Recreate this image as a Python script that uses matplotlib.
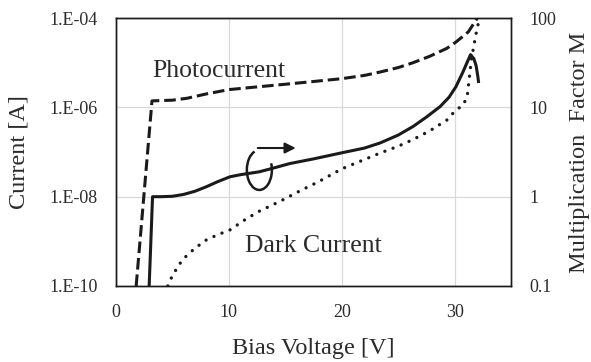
"""Photocurrent, dark current and multiplication factor vs bias voltage."""

import matplotlib

matplotlib.use("Agg")

import matplotlib.pyplot as plt
from matplotlib.patches import Arc
from matplotlib.ticker import FixedLocator, FixedFormatter, NullLocator

plt.rcParams["font.family"] = ["Liberation Serif", "DejaVu Serif"]

# Photocurrent (dashed, left axis)
v_photo = [1.8, 3.2, 5.0, 6.3, 8.0, 10.0, 12.0, 15.0, 17.5, 20.0, 22.0, 23.4, 25.0,
           26.3, 27.8, 29.3, 30.1, 31.2, 32.0]
i_photo = [1e-10, 1.4e-6, 1.45e-6, 1.6e-6, 2.0e-6, 2.5e-6, 2.8e-6, 3.3e-6, 3.8e-6,
           4.4e-6, 5.2e-6, 6.2e-6, 7.8e-6, 1.0e-5, 1.4e-5, 2.1e-5, 2.9e-5, 4.9e-5, 1.0e-4]

# Dark current (dotted, left axis)
v_dark = [4.6, 5.0, 5.9, 7.0, 8.0, 9.0, 10.1, 11.3, 12.6, 14.5, 16.3, 18.0, 20.0,
          23.4, 25.0, 26.3, 27.8, 29.3, 30.1, 30.7, 31.1, 31.3, 31.5, 31.95, 32.2]
i_dark = [1e-10, 1.7e-10, 3.9e-10, 7e-10, 1.07e-9, 1.4e-9, 1.8e-9, 2.9e-9, 4.6e-9,
          7.8e-9, 1.35e-8, 2.2e-8, 4.2e-8, 9.5e-8, 1.35e-7, 1.9e-7, 3.0e-7, 5.2e-7,
          8.7e-7, 1.1e-6, 1.7e-6, 4.8e-6, 1.3e-5, 5.4e-5, 1e-4]

# Multiplication factor M (solid, right axis)
v_mult = [2.95, 3.25, 4.0, 5.0, 6.0, 7.0, 8.0, 9.0, 10.1, 11.0, 12.7, 14.0, 15.4,
          17.5, 20.0, 22.0, 23.4, 25.0, 26.3, 27.5, 28.7, 29.5, 30.1, 30.7, 31.1,
          31.4, 31.7, 31.9, 32.05, 32.1]
m_mult = [0.1, 1.0, 1.0, 1.01, 1.06, 1.15, 1.29, 1.47, 1.67, 1.76, 1.9, 2.1, 2.35,
          2.65, 3.1, 3.5, 4.0, 4.9, 6.1, 7.8, 10.2, 13, 17, 24.5, 32, 39, 35, 29,
          22, 19.5]

x_ticks = [0, 10, 20, 30]
left_ticks = [1e-10, 1e-8, 1e-6, 1e-4]
left_labels = ["1.E-10", "1.E-08", "1.E-06", "1.E-04"]
right_ticks = [0.1, 1, 10, 100]
right_labels = ["0.1", "1", "10", "100"]

INK = "#1a1a1a"
TXT = "#2b2b2b"
GRID = "#d9d9d9"

fig = plt.figure(figsize=(5.91, 3.62), dpi=100)
ax = fig.add_axes([0.196, 0.210, 0.669, 0.740])
ax2 = ax.twinx()

ax.plot(v_photo, i_photo, color=INK, lw=2.2, linestyle=(0, (3.8, 1.6)),
        dash_capstyle="butt", solid_joinstyle="round")
ax.plot(v_dark, i_dark, color=INK, lw=2.4, linestyle=(0, (0.01, 2.6)),
        dash_capstyle="round")
ax2.plot(v_mult, m_mult, color=INK, lw=2.2, solid_joinstyle="round")

ax.set_xlim(0, 35)
ax.set_yscale("log")
ax.set_ylim(1e-10, 1e-4)
ax2.set_yscale("log")
ax2.set_ylim(0.1, 100)

ax.xaxis.set_major_locator(FixedLocator(x_ticks))
ax.yaxis.set_major_locator(FixedLocator(left_ticks))
ax.yaxis.set_major_formatter(FixedFormatter(left_labels))
ax.yaxis.set_minor_locator(NullLocator())
ax2.yaxis.set_major_locator(FixedLocator(right_ticks))
ax2.yaxis.set_major_formatter(FixedFormatter(right_labels))
ax2.yaxis.set_minor_locator(NullLocator())

ax.grid(True, color=GRID, lw=0.9)
ax.set_axisbelow(True)
ax.tick_params(axis="both", length=0, labelsize=13, colors=TXT, pad=13)
ax2.tick_params(axis="y", length=0, labelsize=13, colors=TXT, pad=13)

for a in (ax, ax2):
    for s in a.spines.values():
        s.set_color(INK)
        s.set_linewidth(1.0)

ax.set_xlabel("Bias Voltage [V]", fontsize=17.5, color=TXT, labelpad=12)
ax.set_ylabel("Current [A]", fontsize=17.5, color=TXT, labelpad=14)
ax2.set_ylabel("Multiplication  Factor M", fontsize=17.5, color=TXT, labelpad=9)

ax.text(0.091, 0.78, "Photocurrent", transform=ax.transAxes, fontsize=18.5,
        color=TXT, ha="left", va="baseline")
ax.text(0.327, 0.127, "Dark Current", transform=ax.transAxes, fontsize=18.5,
        color=TXT, ha="left", va="baseline")

# Curved arrow pointing to the right axis
ax2.add_patch(Arc((0.363, 0.433), 0.0633, 0.149, theta1=100, theta2=40,
                  transform=ax.transAxes, color=INK, lw=1.8))
ax2.annotate("", xy=(0.462, 0.515), xytext=(0.352, 0.515), xycoords="axes fraction",
             arrowprops=dict(arrowstyle="-|>", color=INK, lw=1.5, mutation_scale=16))

fig.savefig("out.png", dpi=100)
